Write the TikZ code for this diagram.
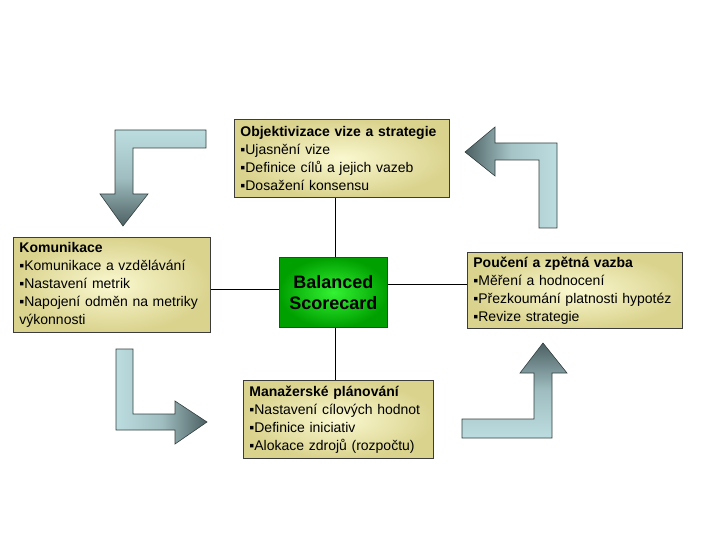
\documentclass[tikz,border=0pt]{standalone}
\usepackage{fontspec}
\setmainfont{Liberation Sans}
\definecolor{boxin}{HTML}{FAF8D0}
\definecolor{boxout}{HTML}{DAD38E}
\definecolor{boxline}{HTML}{3C3C3C}
\definecolor{grin}{HTML}{33F233}
\definecolor{grout}{HTML}{00A000}
\definecolor{arlight}{HTML}{BCDDE0}
\definecolor{ardark}{HTML}{4C6062}
\definecolor{arline}{HTML}{33403F}
\tikzset{
  infobox/.style={draw=boxline, line width=0.8pt, inner color=boxin, outer color=boxout,
    anchor=north west, align=left, inner xsep=6pt, inner ysep=0pt,
    font=\fontsize{14}{18}\selectfont},
  bsc/.style={draw=boxline, line width=0.8pt, inner color=grin, outer color=grout,
    anchor=north west, align=center, font=\fontsize{18}{21}\selectfont\bfseries,
    minimum width=108pt, minimum height=70pt, inner sep=0pt},
  link/.style={draw=black, line width=0.8pt},
  turn/.style={draw=arline, line width=0.6pt}
}
\begin{document}
\begin{tikzpicture}[x=1pt,y=-1pt]
\useasboundingbox (0,0) rectangle (720,540);
% boxes
\node[infobox, minimum width=215pt, minimum height=78pt, text width=203pt] (top) at (234,119)
  {\textbf{Objektivizace vize a strategie}\\▪Ujasnění vize\\▪Definice cílů a jejich vazeb\\▪Dosažení konsensu};
\node[infobox, minimum width=197pt, minimum height=95pt, text width=185pt] (left) at (13,237)
  {\textbf{Komunikace}\\▪Komunikace a vzdělávání\\▪Nastavení metrik\\▪Napojení odměn na metriky\\výkonnosti};
\node[infobox, minimum width=215pt, minimum height=76pt, text width=203pt] (right) at (467,252)
  {\textbf{Poučení a zpětná vazba}\\▪Měření a hodnocení\\▪Přezkoumání platnosti hypotéz\\▪Revize strategie};
\node[infobox, minimum width=190pt, minimum height=78pt, text width=178pt] (bottom) at (243,380)
  {\textbf{Manažerské plánování}\\▪Nastavení cílových hodnot\\▪Definice iniciativ\\▪Alokace zdrojů (rozpočtu)};
\node[bsc] (bsc) at (279,257) {Balanced\\Scorecard};
% connectors
\coordinate (vx) at (335,0);
\coordinate (hl) at (0,289);
\coordinate (hr) at (0,284);
\draw[link] (top.south -| vx) -- (bsc.north -| vx);
\draw[link] (bsc.south -| vx) -- (bottom.north -| vx);
\draw[link] (left.east |- hl) -- (bsc.west |- hl);
\draw[link] (bsc.east |- hr) -- (right.west |- hr);
% turning arrows
\shade[turn, top color=arlight, bottom color=ardark, middle color=arlight!75!ardark]
  (206,130) -- (115,130) -- (115,194) -- (100,194) -- (123,226) -- (148,194) -- (133,194) -- (133,148) -- (206,148) -- cycle;
\shade[turn, left color=ardark, right color=arlight, middle color=arlight!80!ardark]
  (557,228) -- (557,143) -- (495,143) -- (495,127) -- (465,152) -- (495,176) -- (495,160) -- (539,160) -- (539,228) -- cycle;
\shade[turn, left color=arlight, right color=ardark, middle color=arlight!75!ardark]
  (116,349) -- (116,430) -- (175,430) -- (175,444) -- (207,422) -- (175,401) -- (175,414) -- (133,414) -- (133,349) -- cycle;
\shade[turn, top color=ardark, bottom color=arlight, middle color=arlight!75!ardark]
  (462,419) -- (462,438) -- (552,438) -- (552,373) -- (567,373) -- (543,343) -- (520,373) -- (534,373) -- (534,419) -- cycle;
\end{tikzpicture}
\end{document}
